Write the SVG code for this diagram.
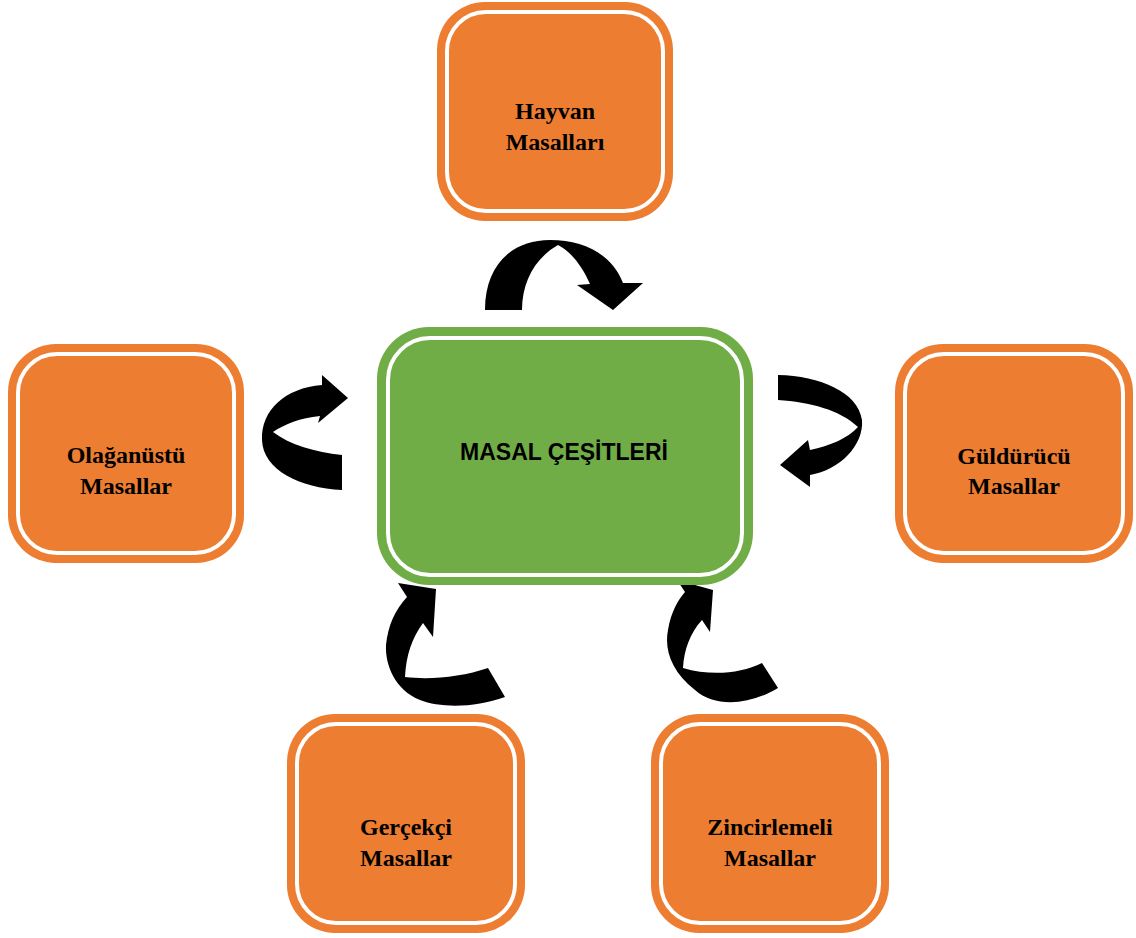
<svg xmlns="http://www.w3.org/2000/svg" width="1136" height="938" viewBox="0 0 1136 938">
<style>
.arrow{fill:#000}
.ob{fill:#ED7D31}
.gb{fill:#70AD47}
.in{fill:none;stroke:#fff;stroke-width:4}
.t{font-family:"Liberation Serif","Times New Roman",serif;font-weight:bold;font-size:24px;text-anchor:middle;fill:#000}
.tc{font-family:"Liberation Sans",Arial,sans-serif;font-weight:bold;font-size:23px;text-anchor:middle;fill:#000}
</style>
<rect width="1136" height="938" fill="#fff"/>
<g id="connectors">
<path class="arrow" d="M485,310 C485,265 512,240 550,240 C585,240 612,255 623,283 L643,283 L613,310 L577,285 L590,284 C583,268 572,252 558,245 C535,258 522,282 522,310 Z"/>
<path class="arrow" d="M342,490 C300,488 263,470 262,440 C261,410 285,388 322,385 L322,375 L348,398 L318,423 L320,416 C300,418 285,424 273,432 C290,445 315,452 342,455 Z"/>
<path class="arrow" d="M778,375 C820,376 858,392 862,420 C864,445 840,470 810,475 L810,487 L780,465 L808,440 L810,450 C830,446 848,438 858,427 C840,410 810,402 778,400 Z"/>
<path class="arrow" d="M436,589 L433,637 L423,623 C412,638 406,655 405,677 C430,680 462,677 488,668 L505,697 C475,708 440,708 420,700 C395,690 385,665 386,645 C388,625 395,610 407,597 L398,583 Z"/>
<path class="arrow" d="M713,590 L710,632 L702,620 C690,633 684,650 683,668 C710,676 740,674 762,663 L778,688 C750,705 715,708 695,690 C672,672 664,650 668,630 C671,612 678,600 685,592 L677,580 Z"/>
</g>
<g id="center">
<rect class="gb" x="377" y="327" width="376" height="258" rx="52"/>
<rect class="in" x="388" y="338" width="354" height="237" rx="42"/>
<text class="tc" x="564" y="460">MASAL ÇEŞİTLERİ</text>
</g>
<g id="hayvan">
<rect class="ob" x="437" y="2" width="236" height="219" rx="48"/>
<rect class="in" x="447" y="12" width="216" height="199" rx="39"/>
<text class="t" x="555" y="119">Hayvan</text>
<text class="t" x="555" y="150">Masalları</text>
</g>
<g id="olaganustu">
<rect class="ob" x="8" y="344" width="236" height="219" rx="48"/>
<rect class="in" x="18" y="354" width="216" height="199" rx="39"/>
<text class="t" x="126" y="463">Olağanüstü</text>
<text class="t" x="126" y="494">Masallar</text>
</g>
<g id="guldurucu">
<rect class="ob" x="895" y="344" width="238" height="219" rx="48"/>
<rect class="in" x="905" y="354" width="218" height="199" rx="39"/>
<text class="t" x="1014" y="464">Güldürücü</text>
<text class="t" x="1014" y="494">Masallar</text>
</g>
<g id="gercekci">
<rect class="ob" x="287" y="714" width="238" height="219" rx="48"/>
<rect class="in" x="297" y="724" width="218" height="199" rx="39"/>
<text class="t" x="406" y="835">Gerçekçi</text>
<text class="t" x="406" y="866">Masallar</text>
</g>
<g id="zincirlemeli">
<rect class="ob" x="651" y="714" width="238" height="219" rx="48"/>
<rect class="in" x="661" y="724" width="218" height="199" rx="39"/>
<text class="t" x="770" y="835">Zincirlemeli</text>
<text class="t" x="770" y="866">Masallar</text>
</g>
</svg>
